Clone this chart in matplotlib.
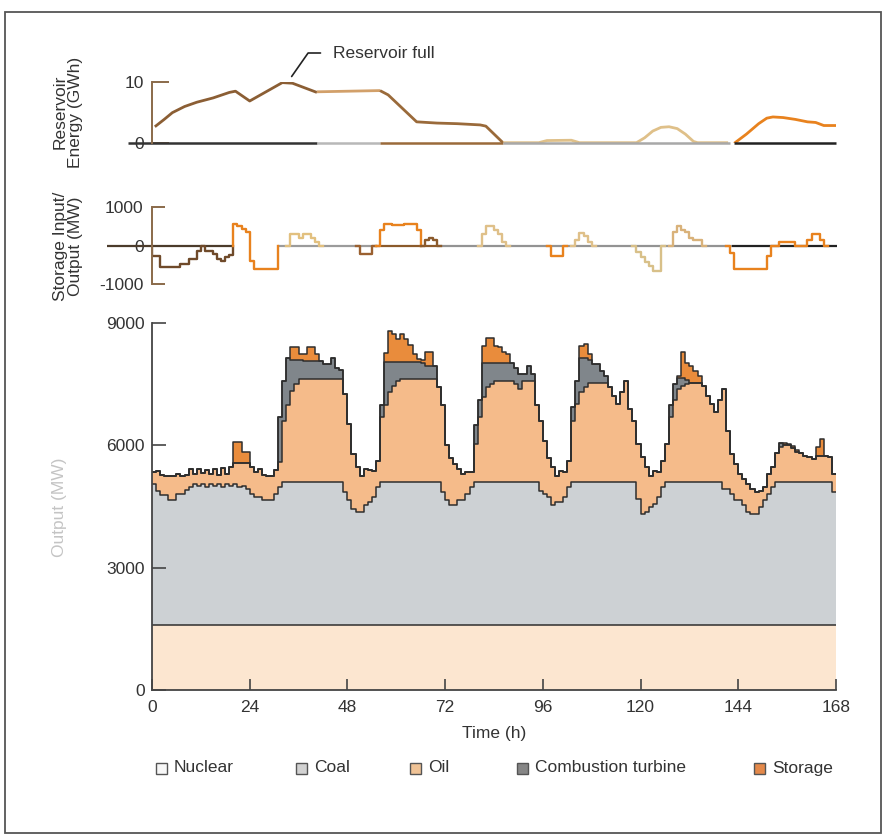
import numpy as np
import matplotlib
matplotlib.use("Agg")
import matplotlib.pyplot as plt
from matplotlib.patches import Rectangle

plt.rcParams['font.family'] = ['Liberation Sans Narrow', 'Liberation Sans', 'DejaVu Sans']
plt.rcParams['axes.unicode_minus'] = False

# ---------------------------------------------------------------- data
time_ticks = [0, 24, 48, 72, 96, 120, 144, 168]
output_ticks = [0, 3000, 6000, 9000]

nuclear_mw = 1600

# top of the coal band (MW), hourly, one row per day
coal_top = (
    [5050, 4890, 4770, 4770, 4660, 4650, 4810, 4810, 4900, 4970, 5050, 5000,
     5050, 4970, 5050, 5000, 5050, 4970, 5050, 5000, 5050, 4970, 5000, 4930] +
    [4810, 4730, 4730, 4650, 4650, 4650, 4810, 4970] + [5100] * 15 + [4850] +
    [4650, 4440, 4360, 4360, 4525, 4600, 4730, 4970] + [5100] * 15 + [4850] +
    [4650, 4525, 4525, 4650, 4650, 4810, 4970] + [5100] * 16 + [4890] +
    [4800, 4730, 4525, 4600, 4600, 4730, 4970] + [5100] * 16 + [4690] +
    [4320, 4360, 4480, 4570, 4730, 4970] + [5100] * 14 + [4930, 4930, 4810, 4650] +
    [4650, 4525, 4360, 4320, 4320, 4480, 4650, 4810, 4970] + [5100] * 14 + [4850]
)

# top of the oil band (MW), hourly
oil_top = (
    [5340, 5380, 5280, 5260, 5260, 5250, 5300, 5260, 5270, 5420, 5300, 5420,
     5330, 5400, 5300, 5420, 5280, 5450, 5300, 5460, 5560, 5560, 5560, 5560] +
    [5460, 5340, 5420, 5280, 5260, 5260, 5400, 5600, 6600, 7000, 7330, 7500] + [7630] * 11 + [7260] +
    [6520, 5790, 5460, 5260, 5420, 5400, 5380, 5620, 6700, 7000, 7300, 7460, 7580] + [7620] * 9 + [7420, 7000] +
    [6000, 5700, 5550, 5420, 5300, 5340, 5340, 6030, 6700, 7180, 7420, 7500] + [7580] * 5 +
    [7500, 7380, 7580, 7580, 7580, 7000, 6600] +
    [6100, 5700, 5460, 5260, 5380, 5340, 5620, 6600, 7010, 7300, 7420] + [7540] * 5 +
    [7420, 7220, 7010, 7300, 7580, 6890, 6600, 6030] +
    [5710, 5460, 5260, 5380, 5340, 5620, 6030, 6690, 7100, 7380, 7460, 7500,
     7540, 7540, 7540, 7460, 7220, 7010, 6810, 7100, 7380, 6360, 5790, 5550] +
    [5300, 5180, 5055, 4930, 4850, 4890, 4970, 5300, 5460, 5800, 5960, 6000,
     6000, 5930, 5830, 5800, 5750, 5710, 5670, 5750, 5750, 5750, 5710, 5300]
)

# combustion turbine output (MW), hourly
ct_mw = (
    [0] * 24 +
    [0] * 7 + [1100, 980, 1150, 770, 600, 470, 450, 450, 450, 450, 450, 370, 370, 520, 270, 220] + [0] +
    [0] * 8 + [300, 1050, 750, 590, 470, 430, 430, 430, 430, 430, 410, 330, 330, 330] + [0] * 2 +
    [0] * 7 + [470, 400, 850, 610, 530, 450, 450, 450, 450, 450, 400, 370, 170, 370, 170] + [0] * 2 +
    [0] * 7 + [330, 570, 850, 730, 560, 450, 450, 290, 160] + [0] * 8 +
    [0] * 7 + [310, 400, 260, 180, 100] + [0] * 12 +
    [0] * 10 + [100] + [0] * 13
)

# storage generation (MW), hourly
storage_mw = (
    [0] * 20 + [515, 515, 270, 270] +
    [0] * 10 + [300, 300, 130, 150, 320, 320, 150] + [0] * 7 +
    [0] * 9 + [225, 750, 670, 550, 670, 550, 400, 200, 60, 60, 330, 330] + [0] * 3 +
    [0] * 9 + [410, 610, 610, 410, 370, 270, 205] + [0] * 8 +
    [0] * 9 + [290, 330, 140] + [0] * 12 +
    [0] * 9 + [60, 640, 430, 410, 290, 160] + [0] * 9 +
    [0] * 11 + [60, 40, 60, 50] + [0] * 4 + [200, 410] + [0] * 3
)

# storage input (-) / output (+) (MW), hourly
storage_io = (
    [-260, -260, -560, -560, -560, -560, -560, -470, -470, -340, -340, -130,
     0, -130, -130, -220, -350, -400, -300, -250, 570, 500, 440, 350] +
    [-390, -600, -600, -600, -600, -600, -600, 0, 0, 0, 300, 300, 200, 300, 300, 200, 100] + [0] * 7 +
    [0, 0, 0, -220, -220, -220, 0, 0, 400, 570, 570, 520, 520, 520, 570, 570, 570, 400,
     0, 130, 200, 130, 0, 0] +
    [0] * 9 + [290, 510, 510, 390, 290, 100] + [0] * 9 +
    [0, 0, -260, -260, -260, 0, 0, 0, 150, 330, 250, 100] + [0] * 11 + [-170] +
    [-300, -420, -530, -650, -650, 0, 0, 0, 340, 510, 400, 340, 200, 130, 130] + [0] * 7 + [-200, -620] +
    [-620] * 7 + [-260, 0, 0, 100, 100, 100, 100, 0, 0, 0, 150, 290, 290, 150, 0, 0, 0]
)

# reservoir energy (GWh), read as traced segments
res_h1 = [0.7, 3, 5, 8, 11, 15, 19, 20.5, 24, 28, 32, 34.5, 40.5]
res_v1 = [2.7, 3.9, 5.0, 6.0, 6.7, 7.4, 8.3, 8.5, 6.9, 8.4, 9.9, 9.8, 8.3]
res_h2 = [40.5, 56]
res_v2 = [8.4, 8.6]
res_h3 = [56, 58, 65, 70, 75, 80.6, 82, 86.2]
res_v3 = [8.6, 7.9, 3.5, 3.3, 3.2, 3.0, 2.8, 0.1]
res_h4 = [86.2, 95, 97, 103, 105, 119, 121, 123, 125, 127, 129, 131, 133, 134, 141.5]
res_v4 = [0.1, 0.1, 0.45, 0.5, 0.1, 0.1, 0.9, 2.0, 2.6, 2.7, 2.4, 1.5, 0.3, 0.1, 0.1]
res_h5 = [143, 146, 149, 151, 152.5, 155, 158, 161, 163, 165, 168]
res_v5 = [0, 1.5, 3.2, 4.1, 4.3, 4.2, 3.9, 3.5, 3.4, 2.9, 2.9]

legend_labels = ['Nuclear', 'Coal', 'Oil', 'Combustion turbine', 'Storage']

# --------------------------------------------------------------- style
C_NUC = '#fce6d0'
C_COAL = '#cdd1d4'
C_OIL = '#f5bb8a'
C_CT = '#80868b'
C_ST = '#e98c3c'
EDGE = '#2e2e2e'
BROWN = '#8b5e34'
DARKBROWN = '#6f4a2a'
ORANGE = '#e8821e'
PALE = '#dfc089'
TXT = '#333333'

W, H = 887, 839


def fig_rect(left, top, right, bottom):
    return [left / W, 1 - bottom / H, (right - left) / W, (bottom - top) / H]


def ext(a):
    a = np.asarray(a, dtype=float)
    return np.append(a, a[-1])


def step_outline(h0, h1, vals):
    xs = np.repeat(np.arange(h0, h1 + 1), 2)
    ys = np.concatenate([[0], np.repeat(vals, 2), [0]])
    return xs, ys


fig = plt.figure(figsize=(W / 100, H / 100), dpi=100)

# ------------------------------------------------------------- top panel
ax_top = fig.add_axes(fig_rect(152, 82, 836, 143.3))
ax_top.set_xlim(0, 168)
ax_top.set_ylim(0, 10)
for h_, v_, c_ in [(res_h1, res_v1, BROWN), (res_h2, res_v2, '#d2a06a'),
                   (res_h3, res_v3, '#9a6a3a'), (res_h4, res_v4, PALE),
                   (res_h5, res_v5, ORANGE)]:
    ax_top.plot(h_, v_, color=c_, lw=2, solid_capstyle='butt')
for s, e, c_ in [(-6, 40.5, '#333333'), (40.5, 56, '#b8b8b8'), (56, 86.2, '#9a6a3a'),
                 (86.2, 142, '#a8a8a8'), (143, 168, '#222222')]:
    ax_top.plot([s, e], [0, 0], color=c_, lw=1.8, clip_on=False, solid_capstyle='butt')
ax_top.annotate('Reservoir full', xy=(34.3, 10.9), xycoords='data',
                xytext=(333, H - 53), textcoords='figure pixels',
                ha='left', va='center', fontsize=12.5, color=TXT,
                annotation_clip=False,
                arrowprops=dict(arrowstyle='-', color='#222222', lw=1.2,
                                relpos=(0, 0.5), shrinkA=7, shrinkB=0,
                                connectionstyle='angle,angleA=0,angleB=55,rad=0'))

# ------------------------------------------------------------ middle panel
ax_mid = fig.add_axes(fig_rect(152, 207, 836, 284))
ax_mid.set_xlim(0, 168)
ax_mid.set_ylim(-1000, 1000)
io = np.array(storage_io, dtype=float)
for s, e, c_ in [(-11, 20, '#4b3b2b'), (31, 55, '#9b9b9b'), (55, 70, '#8b5a2b'),
                 (70, 142.4, '#939393'), (142.4, 168.3, '#222222')]:
    ax_mid.plot([s, e], [0, 0], color=c_, lw=1.6, clip_on=False, solid_capstyle='butt')
for s, e, c_ in [(0, 20, DARKBROWN), (20, 31, ORANGE), (33, 42, '#e2c07f'),
                 (50, 55, '#9a6030'), (55, 66, ORANGE), (66, 71, '#8b5a2b'),
                 (80, 88, PALE), (97, 102, ORANGE), (103, 109, PALE),
                 (118, 126, '#d8c089'), (127, 136, '#d9b27a'), (141, 166, ORANGE)]:
    xs, ys = step_outline(s, e, io[s:e])
    ax_mid.plot(xs, ys, color=c_, lw=1.7)

for ax in (ax_top, ax_mid):
    for side in ('top', 'right', 'bottom'):
        ax.spines[side].set_visible(False)
    ax.spines['left'].set_color('#8a6a4a')
    ax.spines['left'].set_linewidth(1.4)
    ax.set_xticks([])
    ax.tick_params(axis='y', direction='in', length=12, width=1.4, color='#8a6a4a',
                   labelsize=12.5, labelcolor=TXT, pad=6)
    ax.patch.set_alpha(0)
ax_top.set_yticks([0, 10])
ax_mid.set_yticks([-1000, 0, 1000])
ax_mid.tick_params(axis='y', length=9)

# ------------------------------------------------------------ bottom panel
ax = fig.add_axes(fig_rect(152, 323, 836, 690))
x = np.arange(169)
nuc = np.full(168, nuclear_mw, dtype=float)
coal = np.array(coal_top, dtype=float)
oil = np.array(oil_top, dtype=float)
ct = oil + np.array(ct_mw, dtype=float)
st = ct + np.array(storage_mw, dtype=float)

ax.fill_between(x, 0, ext(nuc), step='post', color=C_NUC, lw=0)
ax.fill_between(x, ext(nuc), ext(coal), step='post', color=C_COAL, lw=0)
ax.fill_between(x, ext(coal), ext(oil), step='post', color=C_OIL, lw=0)
ax.fill_between(x, ext(oil), ext(ct), step='post', color=C_CT, lw=0)
ax.fill_between(x, ext(ct), ext(st), step='post', color=C_ST, lw=0)
for top in (nuc, coal, oil, ct, st):
    ax.step(x, ext(top), where='post', color=EDGE, lw=1.1)

ax.set_xlim(0, 168)
ax.set_ylim(0, 9000)
ax.set_xticks(time_ticks)
ax.set_yticks(output_ticks)
ax.spines['top'].set_visible(False)
ax.spines['right'].set_visible(False)
for side in ('left', 'bottom'):
    ax.spines[side].set_color('#444444')
    ax.spines[side].set_linewidth(1.3)
ax.tick_params(direction='in', length=10, width=1.2, color='#444444',
               labelsize=12.5, labelcolor=TXT)
ax.tick_params(axis='x', length=8, pad=7)
ax.tick_params(axis='y', pad=5)
ax.set_xlabel('Time (h)', fontsize=12.5, color=TXT, labelpad=8)

# ------------------------------------------------------------ axis labels
fig.text(68 / W, 1 - 112 / H, 'Reservoir\nEnergy (GWh)', rotation=90, ha='center',
         va='center', fontsize=12.5, color=TXT, multialignment='center', linespacing=1.0)
fig.text(68 / W, 1 - 246 / H, 'Storage Input/\nOutput (MW)', rotation=90, ha='center',
         va='center', fontsize=12.5, color=TXT, multialignment='center', linespacing=1.0)
fig.text(60 / W, 1 - 507 / H, 'Output (MW)', rotation=90, ha='center', va='center',
         fontsize=12.5, color='#c4c4c4')

# ------------------------------------------------------------ legend
legend_colors = ['#f7f7f7', '#d2d2d2', '#f0c396', '#868686', '#e4894a']
legend_box_x = [156, 296, 410, 517, 754]
legend_y = 768
for lab, col, bx in zip(legend_labels, legend_colors, legend_box_x):
    fig.add_artist(Rectangle((bx / W, (H - legend_y - 5.5) / H), 11 / W, 11 / H,
                             transform=fig.transFigure, facecolor=col,
                             edgecolor='#555555', lw=1.0))
    fig.text((bx + 18) / W, 1 - legend_y / H, lab, ha='left', va='center',
             fontsize=12.5, color=TXT)

# outer frame
fig.add_artist(Rectangle((5 / W, 1 - 833 / H), 876 / W, 821 / H, transform=fig.transFigure,
                         fill=False, edgecolor='#555555', lw=1.3))

fig.savefig('out.png', dpi=100, facecolor='white')
